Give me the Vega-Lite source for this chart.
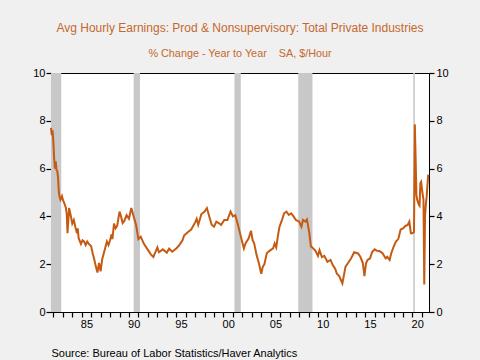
{
  "$schema": "https://vega.github.io/schema/vega-lite/v6.json",
  "width": 378,
  "height": 239,
  "autosize": "none",
  "padding": {"left": 51, "top": 73, "right": 51, "bottom": 48},
  "background": "#f0f0f0",
  "config": {
    "font": "Liberation Sans",
    "view": {"fill": "white", "stroke": "black", "strokeWidth": 1},
    "axis": {
      "grid": false,
      "domainColor": "black",
      "labelColor": "black",
      "labelFont": "Liberation Sans",
      "labelFontSize": 11,
      "labelPadding": 2
    }
  },
  "title": {
    "text": "Avg Hourly Earnings: Prod & Nonsupervisory: Total Private Industries",
    "subtitle": "% Change - Year to Year \u00a0\u00a0\u00a0SA, $/Hour",
    "anchor": "middle",
    "frame": "group",
    "font": "Liberation Sans",
    "fontSize": 12,
    "fontWeight": "normal",
    "color": "#c4682f",
    "subtitleFont": "Liberation Sans",
    "subtitleFontSize": 10.8,
    "subtitleColor": "#c4682f",
    "offset": 7,
    "subtitlePadding": 13
  },
  "datasets": {
    "rec": [
      {"date": "1981-07-01", "end": "1982-11-01"},
      {"date": "1990-07-01", "end": "1991-03-01"},
      {"date": "2001-03-01", "end": "2001-11-01"},
      {"date": "2007-12-01", "end": "2009-06-01"},
      {"date": "2020-02-01", "end": "2020-04-01"}
    ],
    "earn": [
      {"date": "1981-10-01", "v": 7.7},
      {"date": "1981-11-01", "v": 7.4},
      {"date": "1981-12-01", "v": 7.6},
      {"date": "1982-01-01", "v": 7.1},
      {"date": "1982-02-01", "v": 6.4},
      {"date": "1982-03-01", "v": 6.0},
      {"date": "1982-04-01", "v": 6.3},
      {"date": "1982-05-01", "v": 5.95},
      {"date": "1982-06-01", "v": 5.9},
      {"date": "1982-07-01", "v": 5.6},
      {"date": "1982-08-01", "v": 5.0},
      {"date": "1982-09-01", "v": 4.8},
      {"date": "1982-10-01", "v": 4.7},
      {"date": "1982-12-01", "v": 4.85},
      {"date": "1983-01-01", "v": 4.7},
      {"date": "1983-03-01", "v": 4.55},
      {"date": "1983-05-01", "v": 4.35},
      {"date": "1983-06-01", "v": 4.1},
      {"date": "1983-07-01", "v": 3.3},
      {"date": "1983-09-01", "v": 4.35},
      {"date": "1983-11-01", "v": 4.05},
      {"date": "1984-01-01", "v": 3.7},
      {"date": "1984-03-01", "v": 3.85},
      {"date": "1984-05-01", "v": 3.55},
      {"date": "1984-07-01", "v": 3.3},
      {"date": "1984-08-01", "v": 3.5},
      {"date": "1984-09-01", "v": 3.1},
      {"date": "1984-12-01", "v": 2.85},
      {"date": "1985-02-01", "v": 3.0},
      {"date": "1985-04-01", "v": 2.95},
      {"date": "1985-06-01", "v": 2.8},
      {"date": "1985-08-01", "v": 2.95},
      {"date": "1985-10-01", "v": 2.85},
      {"date": "1986-01-01", "v": 2.75},
      {"date": "1986-03-01", "v": 2.45},
      {"date": "1986-05-01", "v": 2.2},
      {"date": "1986-07-01", "v": 1.9},
      {"date": "1986-09-01", "v": 1.65},
      {"date": "1986-11-01", "v": 2.05},
      {"date": "1987-01-01", "v": 1.7},
      {"date": "1987-03-01", "v": 2.2},
      {"date": "1987-05-01", "v": 2.45},
      {"date": "1987-07-01", "v": 2.7},
      {"date": "1987-09-01", "v": 2.95},
      {"date": "1987-11-01", "v": 2.8},
      {"date": "1988-01-01", "v": 3.0},
      {"date": "1988-03-01", "v": 3.25},
      {"date": "1988-04-01", "v": 3.05},
      {"date": "1988-06-01", "v": 3.7},
      {"date": "1988-08-01", "v": 3.5},
      {"date": "1988-10-01", "v": 3.6},
      {"date": "1989-01-01", "v": 4.2},
      {"date": "1989-03-01", "v": 4.0},
      {"date": "1989-05-01", "v": 3.72},
      {"date": "1989-07-01", "v": 3.8},
      {"date": "1989-10-01", "v": 4.05},
      {"date": "1990-01-01", "v": 3.9},
      {"date": "1990-04-01", "v": 4.35},
      {"date": "1990-07-01", "v": 4.0},
      {"date": "1990-10-01", "v": 3.65},
      {"date": "1991-01-01", "v": 3.05},
      {"date": "1991-04-01", "v": 3.15},
      {"date": "1991-08-01", "v": 2.85},
      {"date": "1992-01-01", "v": 2.6},
      {"date": "1992-05-01", "v": 2.4},
      {"date": "1992-08-01", "v": 2.3},
      {"date": "1993-01-01", "v": 2.7},
      {"date": "1993-03-01", "v": 2.5},
      {"date": "1993-08-01", "v": 2.62},
      {"date": "1994-01-01", "v": 2.48},
      {"date": "1994-04-01", "v": 2.65},
      {"date": "1994-08-01", "v": 2.52},
      {"date": "1995-01-01", "v": 2.66},
      {"date": "1995-05-01", "v": 2.8},
      {"date": "1995-09-01", "v": 3.0},
      {"date": "1995-11-01", "v": 3.2},
      {"date": "1996-04-01", "v": 3.35},
      {"date": "1996-08-01", "v": 3.45},
      {"date": "1997-01-01", "v": 3.75},
      {"date": "1997-03-01", "v": 3.9},
      {"date": "1997-05-01", "v": 3.65},
      {"date": "1997-09-01", "v": 4.1},
      {"date": "1998-01-01", "v": 4.2},
      {"date": "1998-04-01", "v": 4.35},
      {"date": "1998-07-01", "v": 4.0},
      {"date": "1998-10-01", "v": 3.65},
      {"date": "1999-01-01", "v": 3.57},
      {"date": "1999-04-01", "v": 3.78},
      {"date": "1999-08-01", "v": 3.7},
      {"date": "1999-10-01", "v": 3.64},
      {"date": "2000-02-01", "v": 3.85},
      {"date": "2000-06-01", "v": 3.85},
      {"date": "2000-10-01", "v": 4.2},
      {"date": "2001-01-01", "v": 4.0},
      {"date": "2001-04-01", "v": 4.05},
      {"date": "2001-07-01", "v": 3.7},
      {"date": "2001-10-01", "v": 3.3},
      {"date": "2002-01-01", "v": 2.9},
      {"date": "2002-03-01", "v": 2.66},
      {"date": "2002-05-01", "v": 2.87},
      {"date": "2002-09-01", "v": 3.08},
      {"date": "2002-12-01", "v": 3.4},
      {"date": "2003-02-01", "v": 3.0},
      {"date": "2003-04-01", "v": 2.87},
      {"date": "2003-07-01", "v": 2.4},
      {"date": "2003-10-01", "v": 2.04},
      {"date": "2004-01-01", "v": 1.6},
      {"date": "2004-03-01", "v": 1.9},
      {"date": "2004-05-01", "v": 2.0},
      {"date": "2004-08-01", "v": 2.46},
      {"date": "2004-11-01", "v": 2.55},
      {"date": "2005-04-01", "v": 2.66},
      {"date": "2005-06-01", "v": 2.87},
      {"date": "2005-08-01", "v": 2.7},
      {"date": "2005-10-01", "v": 3.15},
      {"date": "2005-12-01", "v": 3.55},
      {"date": "2006-04-01", "v": 3.92},
      {"date": "2006-06-01", "v": 4.13},
      {"date": "2006-09-01", "v": 4.2},
      {"date": "2006-12-01", "v": 4.06},
      {"date": "2007-03-01", "v": 4.13},
      {"date": "2007-06-01", "v": 4.0},
      {"date": "2007-09-01", "v": 3.85},
      {"date": "2008-01-01", "v": 3.78},
      {"date": "2008-04-01", "v": 3.57},
      {"date": "2008-06-01", "v": 3.85},
      {"date": "2008-09-01", "v": 3.78},
      {"date": "2008-11-01", "v": 3.87},
      {"date": "2009-02-01", "v": 3.3},
      {"date": "2009-04-01", "v": 2.75},
      {"date": "2009-07-01", "v": 2.66},
      {"date": "2009-10-01", "v": 2.55},
      {"date": "2010-01-01", "v": 2.35},
      {"date": "2010-03-01", "v": 2.59},
      {"date": "2010-06-01", "v": 2.3},
      {"date": "2010-09-01", "v": 2.35},
      {"date": "2011-01-01", "v": 2.1},
      {"date": "2011-05-01", "v": 2.18},
      {"date": "2011-08-01", "v": 1.95},
      {"date": "2011-11-01", "v": 1.8},
      {"date": "2012-01-01", "v": 1.6},
      {"date": "2012-04-01", "v": 1.5},
      {"date": "2012-06-01", "v": 1.35},
      {"date": "2012-08-01", "v": 1.2},
      {"date": "2012-12-01", "v": 1.9},
      {"date": "2013-03-01", "v": 2.04},
      {"date": "2013-07-01", "v": 2.24},
      {"date": "2013-11-01", "v": 2.5},
      {"date": "2014-04-01", "v": 2.45},
      {"date": "2014-07-01", "v": 2.3},
      {"date": "2014-10-01", "v": 2.05},
      {"date": "2014-12-01", "v": 1.5},
      {"date": "2015-02-01", "v": 2.04},
      {"date": "2015-04-01", "v": 2.18},
      {"date": "2015-07-01", "v": 2.24},
      {"date": "2015-10-01", "v": 2.52},
      {"date": "2016-01-01", "v": 2.62},
      {"date": "2016-04-01", "v": 2.56},
      {"date": "2016-07-01", "v": 2.55},
      {"date": "2016-11-01", "v": 2.46},
      {"date": "2017-03-01", "v": 2.24},
      {"date": "2017-05-01", "v": 2.31},
      {"date": "2017-08-01", "v": 2.18},
      {"date": "2017-10-01", "v": 2.45},
      {"date": "2018-01-01", "v": 2.73},
      {"date": "2018-04-01", "v": 2.95},
      {"date": "2018-07-01", "v": 3.05},
      {"date": "2018-10-01", "v": 3.45},
      {"date": "2019-01-01", "v": 3.5},
      {"date": "2019-04-01", "v": 3.6},
      {"date": "2019-07-01", "v": 3.64},
      {"date": "2019-09-01", "v": 3.78},
      {"date": "2019-11-01", "v": 3.3},
      {"date": "2020-01-01", "v": 3.3},
      {"date": "2020-03-01", "v": 3.35},
      {"date": "2020-04-01", "v": 7.85},
      {"date": "2020-05-01", "v": 6.5},
      {"date": "2020-06-01", "v": 4.9},
      {"date": "2020-07-01", "v": 4.7},
      {"date": "2020-08-01", "v": 4.6},
      {"date": "2020-09-01", "v": 4.5},
      {"date": "2020-10-01", "v": 4.45},
      {"date": "2020-11-01", "v": 5.4},
      {"date": "2020-12-01", "v": 5.45},
      {"date": "2021-01-01", "v": 5.15},
      {"date": "2021-02-01", "v": 4.9},
      {"date": "2021-03-01", "v": 4.7},
      {"date": "2021-04-01", "v": 1.15},
      {"date": "2021-05-01", "v": 4.0},
      {"date": "2021-06-01", "v": 4.5},
      {"date": "2021-07-01", "v": 4.8},
      {"date": "2021-08-01", "v": 5.3},
      {"date": "2021-09-01", "v": 5.75}
    ]
  },
  "encoding": {
    "x": {
      "field": "date",
      "type": "temporal",
      "title": "Source:  Bureau of Labor Statistics/Haver Analytics",
      "scale": {"type": "utc", "domain": ["1981-10-01", "2021-10-01"], "nice": false},
      "axis": {
        "orient": "bottom",
        "ticks": true,
        "tickSize": 5,
        "tickColor": "#000000",
        "tickWidth": 1.2,
        "tickCount": {"interval": "year", "step": 1},
        "labelExpr": "utcyear(datum.value) % 5 == 0 ? utcFormat(datum.value, '%y') : ''",
        "labelOffset": 4.7,
        "labelOverlap": false,
        "labelFlush": false,
        "labelBound": false,
        "labelPadding": 1,
        "titleAnchor": "start",
        "titleAlign": "left",
        "titleFont": "Liberation Sans",
        "titleFontSize": 11,
        "titleFontWeight": "normal",
        "titleColor": "black",
        "titlePadding": 18
      }
    }
  },
  "layer": [
    {
      "data": {"name": "rec"},
      "mark": {"type": "rect", "color": "#c8c8c8", "clip": true},
      "encoding": {
        "x2": {"field": "end"},
        "y": {
          "datum": 0,
          "type": "quantitative",
          "scale": {"domain": [0, 10], "nice": false},
          "axis": {"orient": "right", "values": [0, 2, 4, 6, 8, 10], "title": null, "labelPadding": 2, "ticks": true, "tickSize": 5, "tickColor": "#000000", "tickWidth": 1.2}
        },
        "y2": {"datum": 10}
      }
    },
    {
      "data": {"name": "earn"},
      "mark": {"type": "line", "color": "#c55a11", "strokeWidth": 2},
      "encoding": {
        "y": {
          "field": "v",
          "type": "quantitative",
          "scale": {"domain": [0, 10], "nice": false},
          "axis": {"orient": "left", "values": [0, 2, 4, 6, 8, 10], "title": null, "labelPadding": 1, "ticks": true, "tickSize": 5, "tickColor": "#000000", "tickWidth": 1.2}
        }
      }
    }
  ],
  "resolve": {"axis": {"y": "independent"}}
}
